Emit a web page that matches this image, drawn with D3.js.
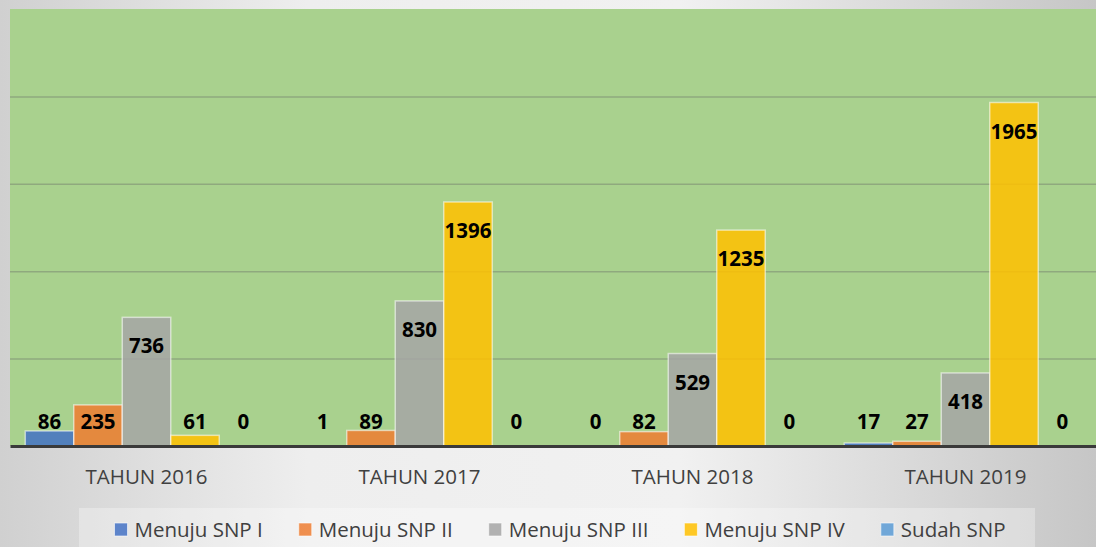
<!DOCTYPE html>
<html>
<head>
<meta charset="utf-8">
<script src="https://cdn.jsdelivr.net/npm/d3@7"></script>
<style>
  html, body { margin: 0; padding: 0; background: #e0e0e0; }
  svg { display: block; }
</style>
</head>
<body>
<svg id="chart" width="1096" height="547"></svg>
<script>
// ---- data ----
const categories = ["TAHUN 2016", "TAHUN 2017", "TAHUN 2018", "TAHUN 2019"];
const seriesNames = ["Menuju SNP I", "Menuju SNP II", "Menuju SNP III", "Menuju SNP IV", "Sudah SNP"];
const menujuSNP1 = [86, 1, 0, 17];
const menujuSNP2 = [235, 89, 82, 27];
const menujuSNP3 = [736, 830, 529, 418];
const menujuSNP4 = [61, 1396, 1235, 1965];
const sudahSNP   = [0, 0, 0, 0];
const gridTicks = [500, 1000, 1500, 2000];
const yMax = 2500;
const seriesColors = ["#4472c4", "#ed7d31", "#a5a5a5", "#ffc000", "#5b9bd5"];

const seriesValues = [menujuSNP1, menujuSNP2, menujuSNP3, menujuSNP4, sudahSNP];

// ---- layout ----
const W = 1096, H = 547;
const plot = { left: 10, top: 9, right: 1102, bottom: 446 };
const FONT = "'Open Sans', 'DejaVu Sans', sans-serif";

const svg = d3.select("#chart");
const defs = svg.append("defs");

const bg = defs.append("linearGradient").attr("id", "bgGrad")
  .attr("x1", "0%").attr("y1", "0%").attr("x2", "100%").attr("y2", "0%");
bg.append("stop").attr("offset", "0%").attr("stop-color", "#d0d0d0");
bg.append("stop").attr("offset", "28%").attr("stop-color", "#eeeeee");
bg.append("stop").attr("offset", "62%").attr("stop-color", "#f1f1f1");
bg.append("stop").attr("offset", "100%").attr("stop-color", "#c6c6c6");

svg.append("rect").attr("width", W).attr("height", H).attr("fill", "url(#bgGrad)");

// plot background
svg.append("rect")
  .attr("x", plot.left).attr("y", plot.top)
  .attr("width", plot.right - plot.left).attr("height", plot.bottom - plot.top)
  .attr("fill", "#a9d18e");

// scales
const x0 = d3.scaleBand().domain(categories).range([plot.left, plot.right]).paddingInner(0).paddingOuter(0);
const x1 = d3.scaleBand().domain(seriesNames).range([0, x0.bandwidth()]).paddingInner(0).paddingOuter(0.315);
const y = d3.scaleLinear().domain([0, yMax]).range([plot.bottom, plot.top]);

// gridlines via axis
const grid = d3.axisLeft(y).tickValues(gridTicks).tickSize(-(plot.right - plot.left)).tickFormat("");
const gG = svg.append("g").attr("transform", `translate(${plot.left},0)`).call(grid);
gG.select(".domain").remove();
gG.selectAll(".tick line").attr("stroke", "#8fa97e").attr("stroke-width", 1.5);

// bars
const groups = svg.append("g").selectAll("g")
  .data(categories).join("g")
  .attr("transform", d => `translate(${x0(d)},0)`);

groups.selectAll("rect")
  .data((c, ci) => seriesNames.map((s, si) => ({ s, si, v: seriesValues[si][ci] })))
  .join("rect")
  .attr("x", d => x1(d.s))
  .attr("y", d => y(d.v))
  .attr("width", x1.bandwidth())
  .attr("height", d => y(0) - y(d.v))
  .attr("fill", d => seriesColors[d.si])
  .attr("fill-opacity", 0.86)
  .attr("stroke", "rgba(255,255,255,0.55)")
  .attr("stroke-width", 1.5);

// data labels
groups.selectAll("text.val")
  .data((c, ci) => seriesNames.map((s, si) => ({ s, si, v: seriesValues[si][ci] })))
  .join("text")
  .attr("class", "val")
  .attr("x", d => x1(d.s) + x1.bandwidth() / 2)
  .attr("y", d => Math.min(y(d.v) + 28, 421))
  .attr("text-anchor", "middle")
  .attr("dominant-baseline", "central")
  .attr("font-family", FONT)
  .attr("font-weight", "bold")
  .attr("font-size", 20.5)
  .attr("fill", "#000")
  .text(d => d.v);

// baseline / category axis
const xAxis = d3.axisBottom(x0).tickSize(0).tickPadding(0);
const ax = svg.append("g").attr("transform", `translate(0,${plot.bottom})`).call(xAxis);
ax.select(".domain").attr("stroke", "#3a3a3a").attr("stroke-width", 3);
ax.selectAll(".tick text")
  .attr("y", 31)
  .attr("dy", "0.35em")
  .attr("font-family", FONT)
  .attr("font-size", 20.5)
  .attr("fill", "#404040");

// legend
svg.append("rect")
  .attr("x", 79).attr("y", 508).attr("width", 956).attr("height", 45)
  .attr("fill", "#ffffff").attr("fill-opacity", 0.3);

const leg = svg.append("g");
const items = leg.selectAll("g").data(seriesNames).join("g");
items.append("rect")
  .attr("width", 13).attr("height", 13).attr("y", -7)
  .attr("fill", (d, i) => seriesColors[i]).attr("fill-opacity", 0.85)
  .attr("stroke", "rgba(255,255,255,0.6)").attr("stroke-width", 1);
items.append("text")
  .attr("x", 20).attr("y", 0).attr("dy", "0.35em")
  .attr("font-family", FONT).attr("font-size", 20.5).attr("fill", "#404040")
  .text(d => d);

let cx = 0;
items.each(function () {
  const w = d3.select(this).select("text").node().getComputedTextLength();
  d3.select(this).attr("data-x", cx);
  cx += 20 + w + 36;
});
const total = cx - 36;
const startX = 560 - total / 2;
items.attr("transform", function () {
  return `translate(${startX + (+d3.select(this).attr("data-x"))},530)`;
});
</script>
</body>
</html>
